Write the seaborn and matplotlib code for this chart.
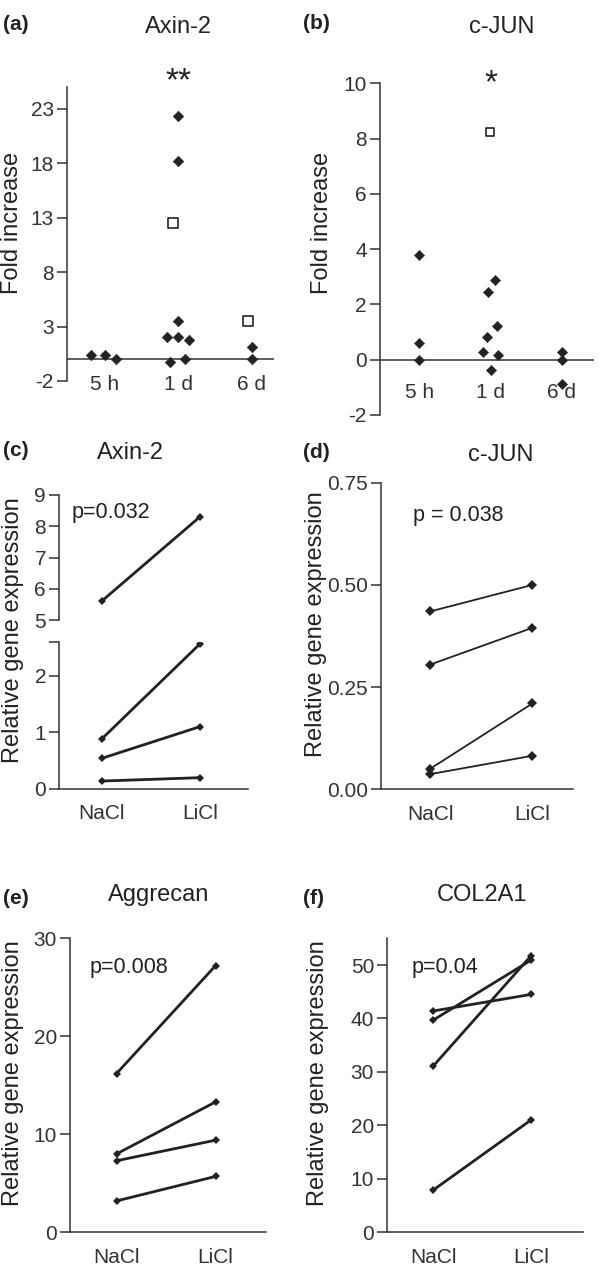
import numpy as np
import pandas as pd
import seaborn as sns
from matplotlib import pyplot as plt

W, H = 600, 1269
INK = "#222222"

# (a) Axin-2 and (b) c-JUN fold increase over time
times = ["5 h", "1 d", "6 d"]

a_time = ["5 h"] * 3 + ["1 d"] * 9 + ["6 d"] * 3
a_fold = [0.4, 0.4, 0.05,
          22.3, 18.2, 12.5, 3.5, 2.05, 2.05, 1.8, -0.3, 0.0,
          3.5, 1.15, 0.0]
a_kind = ["filled"] * 5 + ["open"] + ["filled"] * 6 + ["open"] + ["filled"] * 2
a_jitter = [-0.195, 0.0, 0.15,
            0.0, 0.0, -0.077, 0.0, -0.154, 0.0, 0.15, -0.109, 0.095,
            -0.054, 0.0, 0.0]

b_time = ["5 h"] * 3 + ["1 d"] * 8 + ["6 d"] * 3
b_fold = [3.8, 0.6, 0.0,
          8.25, 2.87, 2.45, 1.21, 0.82, 0.28, 0.18, -0.39,
          0.28, 0.0, -0.89]
b_kind = ["filled"] * 3 + ["open"] + ["filled"] * 10
b_jitter = [0.0, 0.0, 0.0,
            0.0, 0.07, -0.03, 0.09, -0.054, -0.10, 0.11, 0.01,
            0.0, 0.0, 0.0]

# (c)-(f) paired NaCl / LiCl relative expression
salts = ["NaCl", "LiCl"]
c_nacl = [5.6, 0.88, 0.54, 0.14]
c_licl = [8.3, 2.56, 1.1, 0.2]
d_nacl = [0.435, 0.305, 0.05, 0.037]
d_licl = [0.50, 0.395, 0.21, 0.082]
e_nacl = [16.2, 8.0, 7.3, 3.2]
e_licl = [27.2, 13.3, 9.4, 5.7]
f_nacl = [41.4, 39.7, 31.1, 7.9]
f_licl = [44.5, 50.9, 51.7, 21.0]

sns.set_style("ticks")
plt.rcParams["font.family"] = ["Liberation Sans", "DejaVu Sans"]
plt.rcParams.update({
    "axes.unicode_minus": False,
    "axes.edgecolor": "#333333",
    "axes.linewidth": 1.1,
    "xtick.color": "#333333",
    "ytick.color": "#333333",
    "ytick.major.size": 7,
    "ytick.major.width": 1.1,
    "ytick.major.pad": 2.5,
    "xtick.major.size": 0,
    "xtick.labelsize": 15,
    "ytick.labelsize": 15,
    "text.color": INK,
    "axes.labelcolor": INK,
})

fig = plt.figure(figsize=(6, 12.69), dpi=100)


def add_ax(l, t, r, b):
    return fig.add_axes([l / W, 1 - b / H, (r - l) / W, (b - t) / H])


def fig_text(x, y, s, **kw):
    fig.text(x / W, 1 - y / H, s, **kw)


def set_ylabel(ax, text, x, y):
    ax.set_ylabel(text, fontsize=17)
    ax.yaxis.set_label_coords(x / W, 1 - y / H, transform=fig.transFigure)
    ax.yaxis.label.set_va("center")


def scatter_panel(ax, t, fold, kind, jitter, s_d, s_s):
    df = pd.DataFrame({"time": t, "fold": fold, "kind": kind})
    df["x"] = df["time"].map({k: i for i, k in enumerate(times)}) + np.array(jitter)
    ax.axhline(0, color="#333333", lw=1.1, zorder=1)
    sns.scatterplot(data=df[df["kind"] == "filled"], x="x", y="fold", marker="D",
                    s=s_d, color=INK, edgecolor=INK, linewidth=0.3, ax=ax,
                    legend=False, zorder=3)
    sns.scatterplot(data=df[df["kind"] == "open"], x="x", y="fold", marker="s",
                    s=s_s, color="white", edgecolor=INK, linewidth=1.2, ax=ax,
                    legend=False, zorder=3)
    sns.despine(ax=ax, bottom=True)
    ax.set_xticks(range(len(times)), times)
    ax.set_xlabel("")


def paired_panel(ax, nacl, licl, lw, ms):
    n = len(nacl)
    df = pd.DataFrame({"salt": salts[:1] * n + salts[1:] * n,
                       "expr": nacl + licl,
                       "pair": list(range(n)) * 2})
    df["x"] = df["salt"].map({k: i for i, k in enumerate(salts)})
    sns.lineplot(data=df, x="x", y="expr", units="pair", estimator=None,
                 color=INK, lw=lw, marker="D", markersize=ms,
                 markeredgewidth=0, ax=ax, legend=False)
    ax.set_xticks(range(len(salts)), salts)
    ax.tick_params(axis="x", pad=11)
    ax.set_xlabel("")
    sns.despine(ax=ax)
    return df


# ---- (a)
ax = add_ax(67, 87, 274, 381)
scatter_panel(ax, a_time, a_fold, a_kind, a_jitter, 30, 42)
ax.set_xlim(-0.517, 2.30)
ax.set_ylim(-2, 25)
ax.set_yticks([-2, 3, 8, 13, 18, 23])
ax.tick_params(axis="x", pad=-4.3)
set_ylabel(ax, "Fold increase", 12.5, 222.5)
ax.text(1.0, 25.5, "**", ha="center", va="center", fontsize=24, clip_on=False)
fig_text(178.3, 33.3, "Axin-2", ha="center", va="baseline", fontsize=17)
fig_text(3.3, 24, "(a)", ha="left", va="center", fontsize=15, fontweight="bold")

# ---- (b)
ax = add_ax(380, 83.3, 594, 415)
scatter_panel(ax, b_time, b_fold, b_kind, b_jitter, 28, 34)
ax.set_xlim(-0.552, 2.454)
ax.set_ylim(-2, 10)
ax.set_yticks(range(-2, 11, 2))
ax.tick_params(axis="x", pad=-23.3)
set_ylabel(ax, "Fold increase", 322, 223.3)
ax.text(1.0, 10.0, "*", ha="center", va="center", fontsize=24, clip_on=False)
fig_text(501.7, 33.3, "c-JUN", ha="center", va="baseline", fontsize=17)
fig_text(303, 23.3, "(b)", ha="left", va="center", fontsize=15, fontweight="bold")

# ---- (c) broken axis
n = len(c_nacl)
upper = [i for i in range(n) if max(c_nacl[i], c_licl[i]) > 4]
lower = [i for i in range(n) if i not in upper]
ax_hi = add_ax(59.3, 495, 248, 620)
paired_panel(ax_hi, [c_nacl[i] for i in upper], [c_licl[i] for i in upper], 2.0, 3.8)
ax_hi.set_ylim(5, 9)
ax_hi.set_yticks(range(5, 10))
ax_hi.set_xlim(-0.43, 1.49)
ax_hi.spines["bottom"].set_visible(False)
ax_hi.set_xticks([])
ax_hi.set_ylabel("")
ax_hi.text(-0.302, 8.26, "p=0.032", ha="left", va="baseline", fontsize=15.5)

ax = add_ax(59.3, 641.7, 248, 789)
paired_panel(ax, [c_nacl[i] for i in lower], [c_licl[i] for i in lower], 2.0, 3.8)
ax.set_ylim(0, 2.6)
ax.set_yticks([0, 1, 2, 2.6], ["0", "1", "2", ""])
ax.set_xlim(-0.43, 1.49)
set_ylabel(ax, "Relative gene expression", 13.3, 630)
fig_text(130.8, 459.3, "Axin-2", ha="center", va="baseline", fontsize=17)
fig_text(3.3, 450.8, "(c)", ha="left", va="center", fontsize=15, fontweight="bold")

# ---- (d)
ax = add_ax(381, 482.7, 573.3, 789.3)
paired_panel(ax, d_nacl, d_licl, 1.3, 5.6)
ax.set_ylim(0, 0.75)
ax.set_yticks([0, 0.25, 0.5, 0.75], ["0.00", "0.25", "0.50", "0.75"])
ax.set_xlim(-0.48, 1.40)
set_ylabel(ax, "Relative gene expression", 315.7, 624)
ax.text(-0.166, 0.656, "p = 0.038", ha="left", va="baseline", fontsize=15.5)
fig_text(500.8, 460.7, "c-JUN", ha="center", va="baseline", fontsize=17)
fig_text(303, 452.5, "(d)", ha="left", va="center", fontsize=15, fontweight="bold")

# ---- (e)
ax = add_ax(70, 938.3, 266, 1232.3)
paired_panel(ax, e_nacl, e_licl, 2.0, 4.0)
ax.set_ylim(0, 30)
ax.set_yticks([0, 10, 20, 30])
ax.set_xlim(-0.47, 1.51)
set_ylabel(ax, "Relative gene expression", 13.3, 1073.3)
ax.text(-0.27, 26.5, "p=0.008", ha="left", va="baseline", fontsize=15.5)
fig_text(158.3, 900.7, "Aggrecan", ha="center", va="baseline", fontsize=17)
fig_text(3.3, 899, "(e)", ha="left", va="center", fontsize=15, fontweight="bold")

# ---- (f)
ax = add_ax(387.3, 938.3, 582.7, 1232.3)
paired_panel(ax, f_nacl, f_licl, 2.0, 4.0)
ax.set_ylim(0, 55)
ax.set_yticks(range(0, 51, 10))
ax.set_xlim(-0.47, 1.53)
set_ylabel(ax, "Relative gene expression", 318.3, 1073.3)
ax.text(-0.22, 48.6, "p=0.04", ha="left", va="baseline", fontsize=15.5)
fig_text(482.5, 900.7, "COL2A1", ha="center", va="baseline", fontsize=17)
fig_text(303, 899, "(f)", ha="left", va="center", fontsize=15, fontweight="bold")

fig.savefig("out.png", dpi=100, facecolor="white")
